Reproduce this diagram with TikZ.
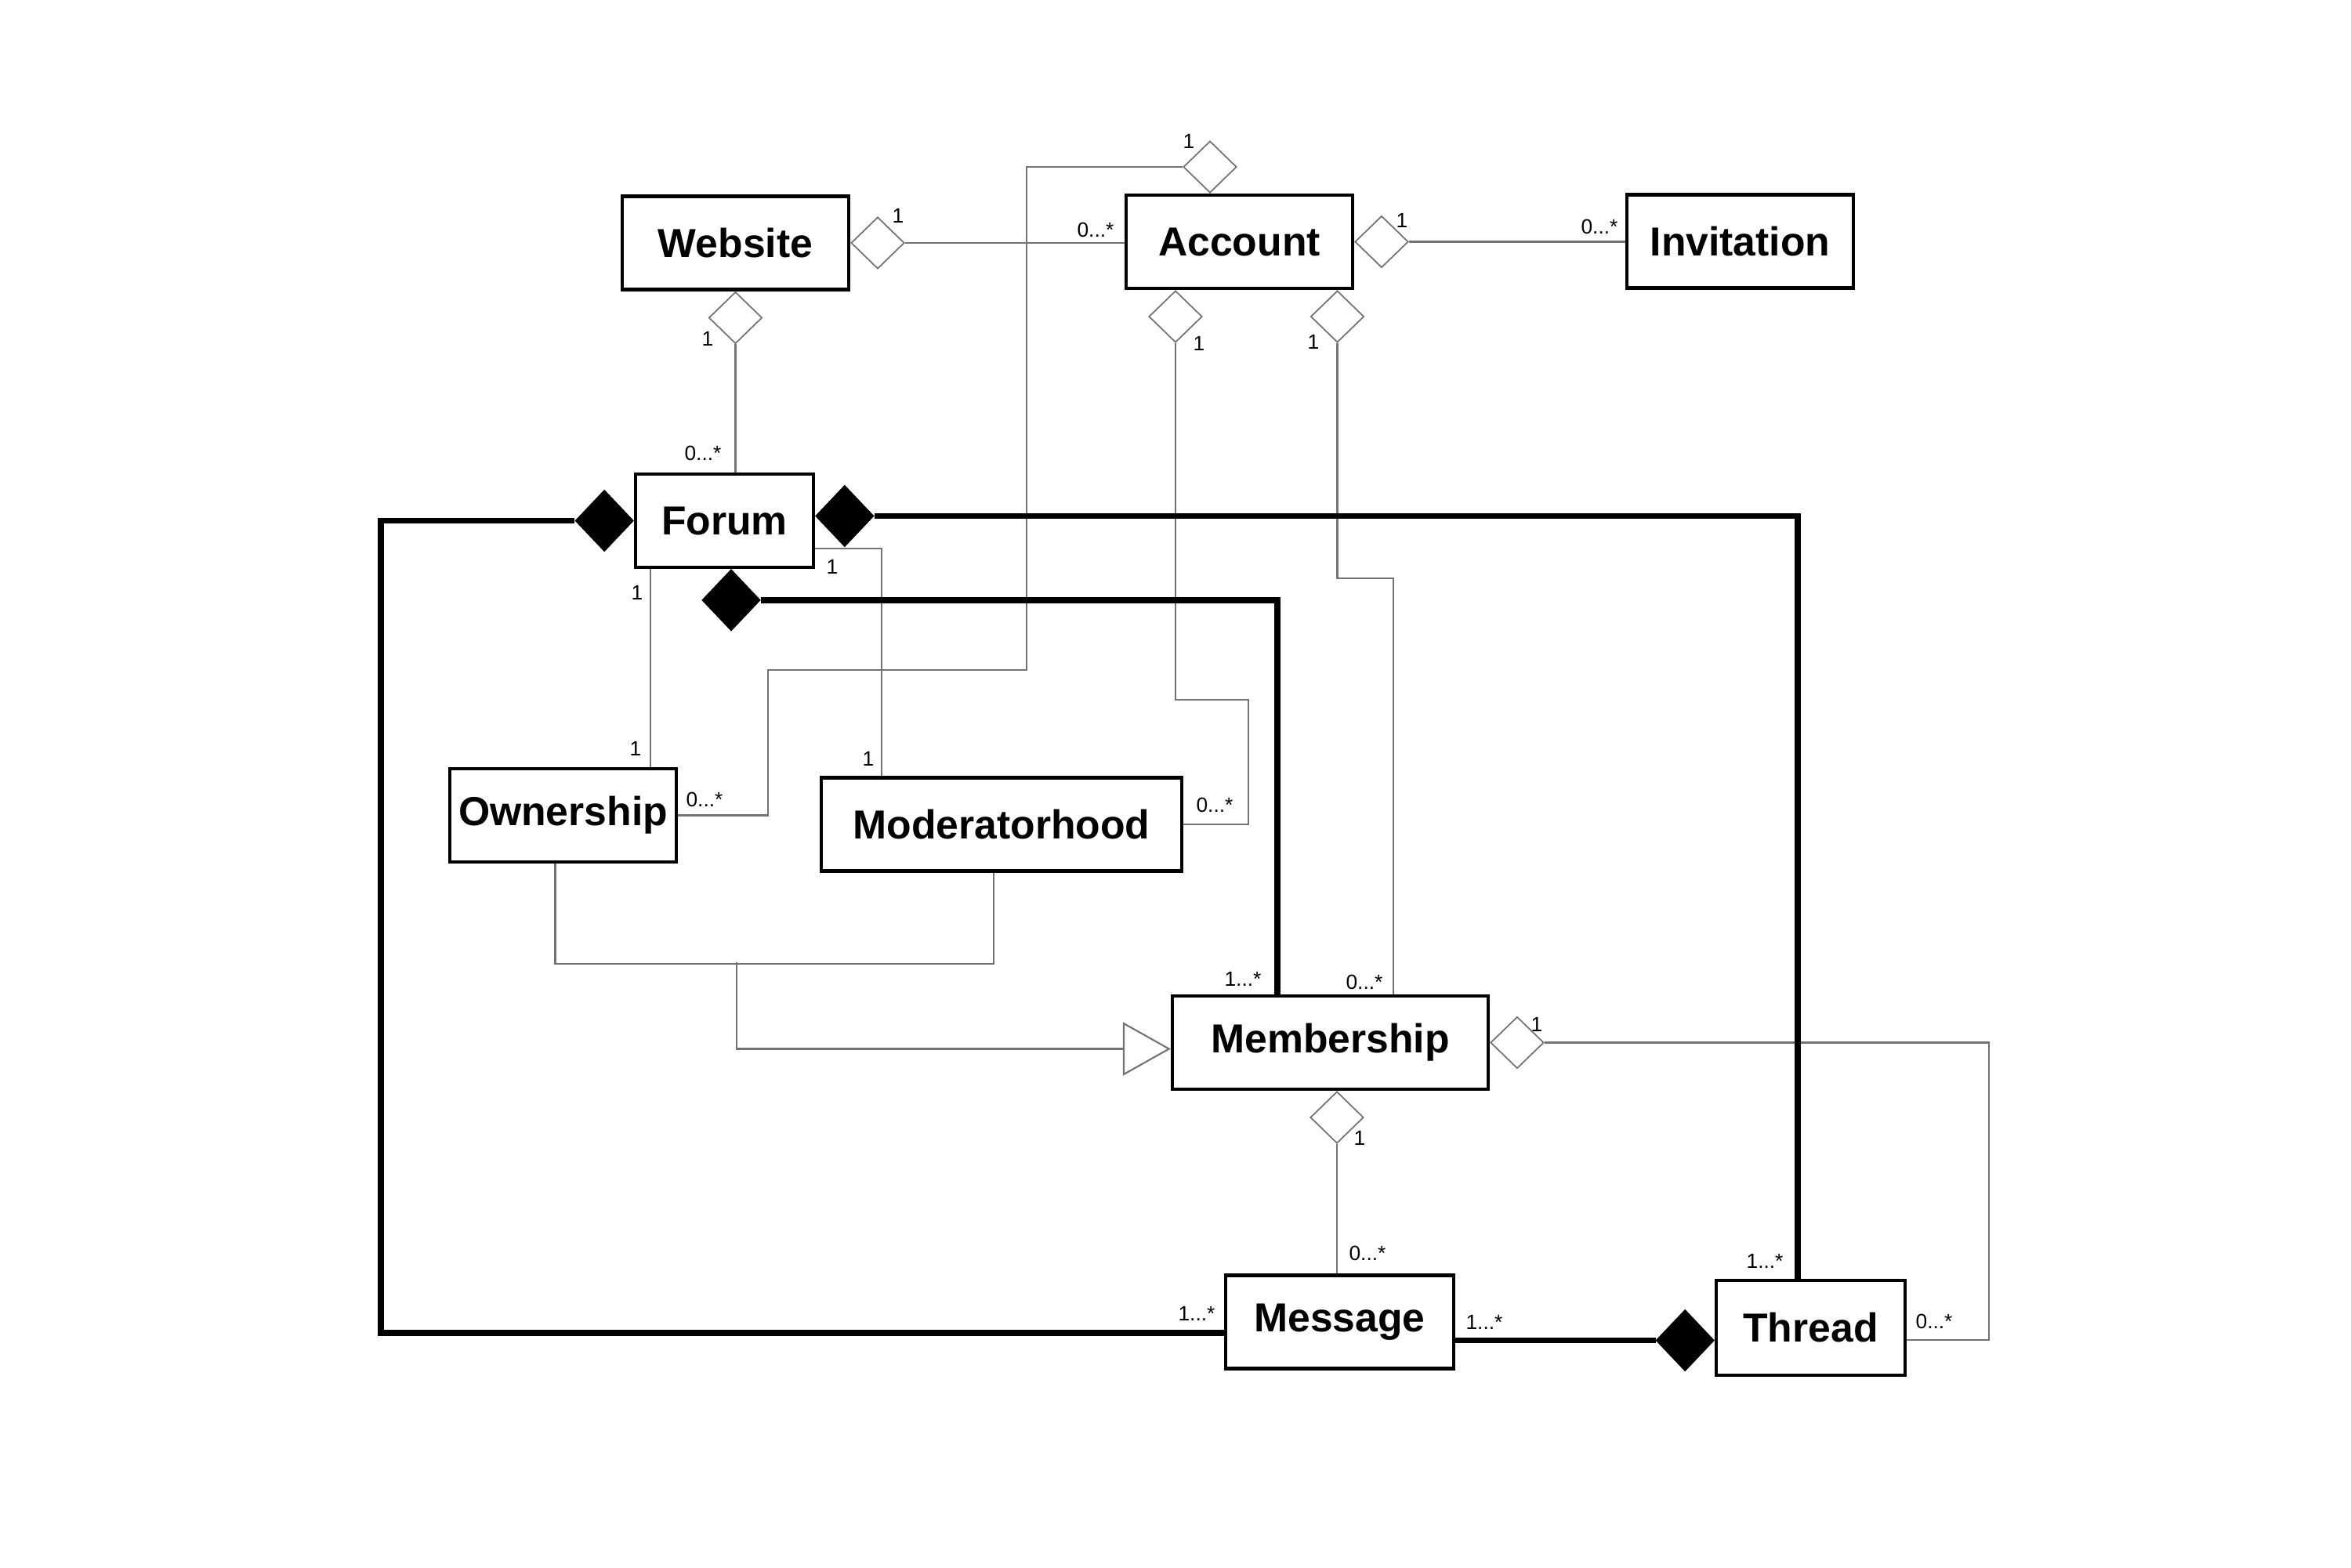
\documentclass[tikz,border=0pt]{standalone}
\usepackage{fontspec}
\setmainfont{Liberation Sans}
\usepackage{tikz}
\usetikzlibrary{positioning, arrows.meta, shapes.geometric, calc}

\begin{document}
\begin{tikzpicture}[
  cls/.style={
    rectangle,
    draw,
    line width=1.2pt,
    fill=white,
    minimum width=2.89cm,
    minimum height=1.19cm,
    inner sep=0pt,
    font=\fontsize{14.7}{18}\selectfont\bfseries
  },
  odiam/.style={diamond, draw=black!55, line width=0.5pt, fill=white,
    minimum width=0.68cm, minimum height=0.66cm, inner sep=0pt},
  fdiam/.style={diamond, draw, fill=black,
    minimum width=0.74cm, minimum height=0.78cm, inner sep=0pt},
  assoc/.style={draw=black!55, line width=0.6pt},
  comp/.style={line width=2.1pt},
  gen/.style={assoc, -{Triangle[open, length=0.61cm, width=0.68cm]}},
  mult/.style={font=\fontsize{7.5}{9}\selectfont, inner sep=0pt}
]
  \useasboundingbox (0,0) rectangle (30,-20);

  % Classes
  \node (website)       [cls]                      at (9.385,-3.10)   {Website};
  \node (account)       [cls]                      at (15.815,-3.085) {Account};
  \node (invitation)    [cls]                      at (22.205,-3.08)  {Invitation};
  \node (forum)         [cls, minimum width=2.27cm] at (9.245,-6.645)  {Forum};
  \node (ownership)     [cls]                      at (7.185,-10.405) {Ownership};
  \node (moderatorhood) [cls, minimum width=4.60cm] at (12.78,-10.52)  {Moderatorhood};
  \node (membership)    [cls, minimum width=4.03cm] at (16.975,-13.305) {Membership};
  \node (message)       [cls, minimum width=2.91cm] at (17.095,-16.87) {Message};
  \node (thread)        [cls, minimum width=2.41cm, minimum height=1.21cm] at (23.105,-16.945) {Thread};

  % Aggregation diamonds
  \node (dWebR)  [odiam, anchor=west]  at (website.east) {};
  \node (dWebB)  [odiam, anchor=north] at (website.south) {};
  \node (dAccT)  [odiam, anchor=south] at ([xshift=-0.375cm]account.north) {};
  \node (dAccR)  [odiam, anchor=west]  at (account.east) {};
  \node (dAccBL) [odiam, anchor=north] at ([xshift=-0.815cm]account.south) {};
  \node (dAccBR) [odiam, anchor=north] at ([xshift=1.25cm]account.south) {};
  \node (dMemR)  [odiam, anchor=west]  at (membership.east) {};
  \node (dMemB)  [odiam, anchor=north] at ([xshift=0.085cm]membership.south) {};

  % Composition diamonds
  \node (fForL) [fdiam, anchor=east]  at (forum.west) {};
  \node (fForR) [fdiam, anchor=west]  at ([yshift=0.06cm]forum.east) {};
  \node (fForB) [fdiam, anchor=north] at ([xshift=0.085cm]forum.south) {};
  \node (fThrL) [fdiam, anchor=east]  at ([yshift=-0.16cm]thread.west) {};

  % Bend points
  \coordinate (acA) at (13.1,-8.55);
  \coordinate (acB) at (9.8,-8.55);
  \coordinate (amA) at (15.93,-8.93);
  \coordinate (abA) at (17.78,-7.38);
  \coordinate (fmA) at (4.86,-17.01);
  \coordinate (mtA) at (25.38,-17.1);
  \coordinate (gJ)  at (9.4,-12.28);

  % Associations
  \draw [assoc] (dWebR.east) -- (dWebR.east -| account.west);
  \draw [assoc] (dAccR.east) -- (dAccR.east -| invitation.west);
  \draw [assoc] (dWebB.south) -- (dWebB.south |- forum.north);
  \draw [assoc] (dAccT.west) -| (acA) -- (acB) |- (ownership.east);
  \draw [assoc] (dAccBL.south) |- (amA) |- (moderatorhood.east);
  \draw [assoc] (dAccBR.south) |- (abA) -- (abA |- membership.north);
  \draw [assoc] ([xshift=-0.945cm]forum.south) coordinate (foA) -- (foA |- ownership.north);
  \draw [assoc] ([yshift=-0.355cm]forum.east) -| ([xshift=-1.53cm]moderatorhood.north);
  \draw [assoc] (dMemR.east) -| (mtA) -- (mtA -| thread.east);
  \draw [assoc] (dMemB.south) -- (dMemB.south |- message.north);

  % Compositions
  \draw [comp] (fForL.west) -| (fmA) -- (fmA -| message.west);
  \draw [comp] (fForR.east) -| ([xshift=-0.165cm]thread.north);
  \draw [comp] (fForB.east) -| ([xshift=-0.675cm]membership.north);
  \draw [comp] (fThrL.west) -- (fThrL.west -| message.east);

  % Generalization
  \draw [assoc] ([xshift=-0.1cm]ownership.south) -- ++(0,-1.275) -| ([xshift=-0.1cm]moderatorhood.south);
  \draw [gen] (gJ) |- ([yshift=-0.08cm]membership.west);

  % Multiplicities
  \node (mWebR)  [mult] at (11.46,-2.75)  {1};
  \node (mAccL)  [mult] at (13.98,-2.93)  {0...*};
  \node (mAccT)  [mult] at (15.17,-1.80)  {1};
  \node (mAccR)  [mult] at (17.89,-2.81)  {1};
  \node (mInvL)  [mult] at (20.41,-2.89)  {0...*};
  \node (mWebB)  [mult] at (9.03,-4.32)   {1};
  \node (mAccBL) [mult] at (15.30,-4.38)  {1};
  \node (mAccBR) [mult] at (16.76,-4.36)  {1};
  \node (mForT)  [mult] at (8.97,-5.78)   {0...*};
  \node (mForO)  [mult] at (8.13,-7.56)   {1};
  \node (mForM)  [mult] at (10.62,-7.23)  {1};
  \node (mOwnT)  [mult] at (8.11,-9.55)   {1};
  \node (mModT)  [mult] at (11.08,-9.68)  {1};
  \node (mOwnR)  [mult] at (8.99,-10.20)  {0...*};
  \node (mModR)  [mult] at (15.50,-10.27) {0...*};
  \node (mMemTL) [mult] at (15.86,-12.49) {1...*};
  \node (mMemTR) [mult] at (17.41,-12.53) {0...*};
  \node (mMemR)  [mult] at (19.61,-13.07) {1};
  \node (mMemB)  [mult] at (17.35,-14.52) {1};
  \node (mMsgT)  [mult] at (17.45,-15.99) {0...*};
  \node (mThrT)  [mult] at (22.52,-16.09) {1...*};
  \node (mMsgL)  [mult] at (15.27,-16.76) {1...*};
  \node (mMsgR)  [mult] at (18.94,-16.87) {1...*};
  \node (mThrR)  [mult] at (24.68,-16.86) {0...*};

\end{tikzpicture}
\end{document}
